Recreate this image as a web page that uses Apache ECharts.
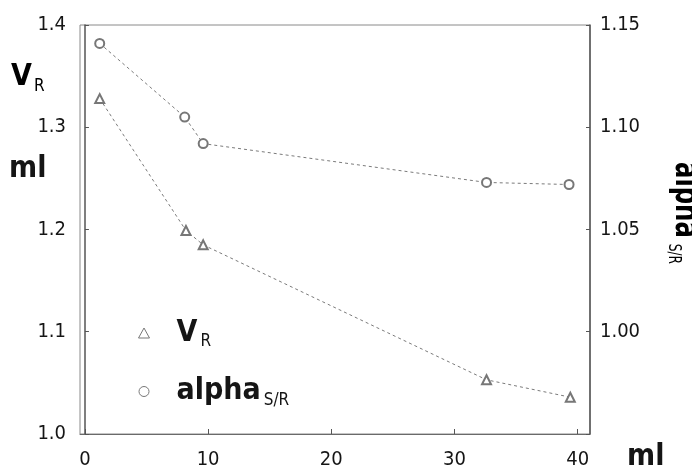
<!DOCTYPE html>
<html>
<head>
<meta charset="utf-8">
<script src="https://cdn.jsdelivr.net/npm/echarts@6/dist/echarts.min.js"></script>
<style>
  html, body { margin: 0; padding: 0; background: #fff; }
  #chart { width: 692px; height: 470px; }
</style>
</head>
<body>
<div id="chart"></div>
<script>
// volume (ml)
const vrVolume = [1.2, 8.2, 9.6, 32.6, 39.4]
const vrValues = [1.328, 1.199, 1.185, 1.053, 1.036]
const alphaVolume = [1.2, 8.1, 9.6, 32.6, 39.3]
const alphaValues = [1.141, 1.105, 1.092, 1.073, 1.072]
const xTicks = [0, 10, 20, 30, 40]

const font = "'DejaVu Sans Condensed', 'Liberation Sans Narrow', sans-serif"
const ink = '#151515'
const lineGray = '#7a7a7a'

const myChart = echarts.init(document.getElementById('chart'))

const subRich = {
  b: {fontFamily: font, fontSize: 30, fontWeight: 'bold', color: ink},
  s: {fontFamily: font, fontSize: 17, color: ink, padding: [18, 0, 0, 3]}
}

const option = {
  animation: false,
  grid: {
    left: 80, right: 102, top: 25, bottom: 35,
    show: true, borderColor: '#8a8a8a', borderWidth: 1
  },
  legend: {
    orient: 'vertical',
    left: 133,
    top: 313,
    itemGap: 26,
    itemWidth: 11,
    itemHeight: 10,
    itemStyle: {color: '#fff', borderColor: '#777', borderWidth: 1},
    data: [
      {name: 'VR', icon: 'triangle'},
      {name: 'alpha', icon: 'circle'}
    ],
    formatter: name => name === 'VR' ? '{b|V}{s|R}' : '{b|alpha}{s|S/R}',
    textStyle: {padding: [0, 0, 0, 22], rich: subRich}
  },
  xAxis: {
    type: 'value',
    min: -0.4,
    max: 41,
    axisLine: {show: true, lineStyle: {color: '#6a6a6a', width: 1}},
    axisTick: {show: true, inside: true, length: 5, customValues: xTicks, lineStyle: {color: '#555'}},
    axisLabel: {
      customValues: xTicks,
      margin: 16,
      fontFamily: font, fontSize: 20, color: ink
    },
    splitLine: {show: false}
  },
  yAxis: [
    {
      type: 'value',
      min: 1.0,
      max: 1.4,
      interval: 0.1,
      axisLine: {show: true, lineStyle: {color: '#555', width: 1.5}},
      axisTick: {show: true, inside: true, length: 4, lineStyle: {color: '#555'}},
      axisLabel: {
        margin: 14,
        fontFamily: font, fontSize: 20, color: ink,
        formatter: v => v.toFixed(1)
      },
      splitLine: {show: false}
    },
    {
      type: 'value',
      min: 0.95,
      max: 1.15,
      interval: 0.05,
      axisLine: {show: true, lineStyle: {color: '#555', width: 1.5}},
      axisTick: {show: true, inside: true, length: 4, lineStyle: {color: '#555'}},
      axisLabel: {
        margin: 10,
        fontFamily: font, fontSize: 20, color: ink,
        formatter: v => v < 0.99 ? '' : v.toFixed(2)
      },
      splitLine: {show: false}
    }
  ],
  graphic: [
    {
      type: 'text', left: 11, top: 62,
      style: {text: '{b|V}{s|R}', rich: {
        b: {fontFamily: font, fontSize: 30, fontWeight: 'bold', color: ink},
        s: {fontFamily: font, fontSize: 17, color: ink, padding: [20, 0, 0, 2]}
      }}
    },
    {
      type: 'text', left: 9, top: 154,
      style: {text: 'ml', fontFamily: font, fontSize: 30, fontWeight: 'bold', fill: ink}
    },
    {
      type: 'text', left: 627, top: 442,
      style: {text: 'ml', fontFamily: font, fontSize: 30, fontWeight: 'bold', fill: ink}
    },
    {
      // rotated right-hand axis title, partly running off the page as in the scan
      type: 'text', x: 665, y: 162, rotation: -Math.PI / 2, scaleX: 0.75,
      style: {text: '{b|alpha}{s|S/R}', align: 'left', verticalAlign: 'bottom', rich: {
        b: {fontFamily: font, fontSize: 36, fontWeight: 'bold', color: ink},
        s: {fontFamily: font, fontSize: 18, color: ink, padding: [22, 0, 0, 8]}
      }}
    }
  ],
  series: [
    {
      name: 'VR',
      type: 'line',
      yAxisIndex: 0,
      data: vrVolume.map((x, i) => [x, vrValues[i]]),
      symbol: 'emptyTriangle',
      symbolSize: 9,
      itemStyle: {color: '#777'},
      lineStyle: {color: lineGray, width: 1, type: [3, 3]}
    },
    {
      name: 'alpha',
      type: 'line',
      yAxisIndex: 1,
      data: alphaVolume.map((x, i) => [x, alphaValues[i]]),
      symbol: 'emptyCircle',
      symbolSize: 9,
      itemStyle: {color: '#777'},
      lineStyle: {color: lineGray, width: 1, type: [3, 3]}
    }
  ]
}

myChart.setOption(option)
</script>
</body>
</html>
